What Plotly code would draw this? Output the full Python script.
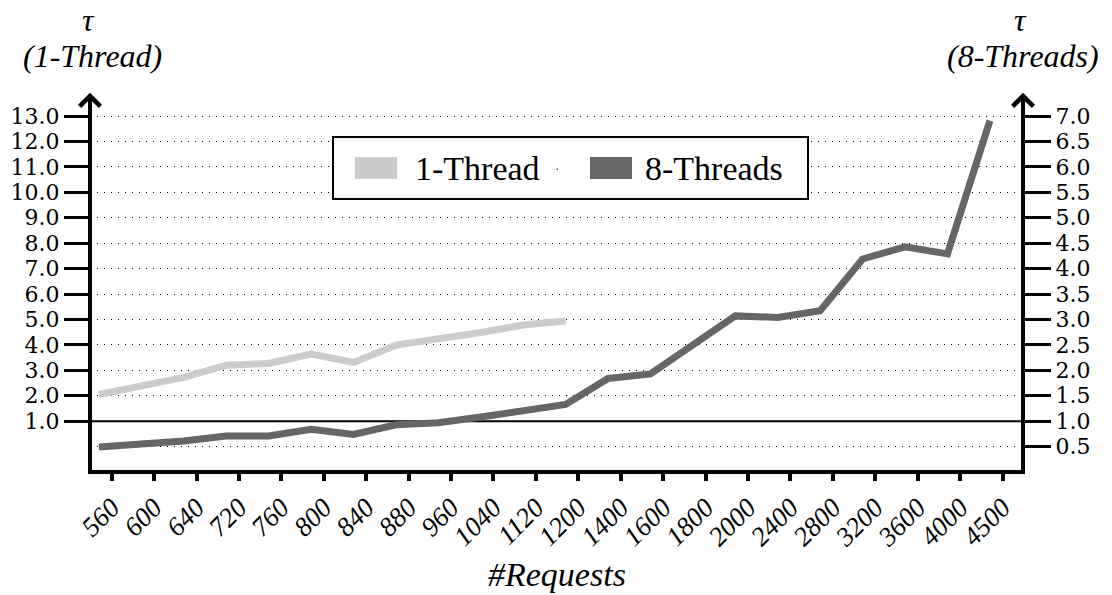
import plotly.graph_objects as go

# ---- data -------------------------------------------------------------
requests = ["560", "600", "640", "720", "760", "800", "840", "880", "960",
            "1040", "1120", "1200", "1400", "1600", "1800", "2000", "2400",
            "2800", "3200", "3600", "4000", "4500"]

tau_1_thread = [2.05, 2.40, 2.72, 3.20, 3.27, 3.64, 3.31, 3.99, 4.23, 4.49,
                4.78, 4.94]

tau_8_threads = [0.49, 0.55, 0.61, 0.71, 0.71, 0.84, 0.74, 0.93, 0.97, 1.08,
                 1.20, 1.33, 1.84, 1.93, 2.50, 3.07, 3.04, 3.17, 4.19, 4.43,
                 4.29, 6.91]

left_ticks = [1.0, 2.0, 3.0, 4.0, 5.0, 6.0, 7.0, 8.0, 9.0, 10.0, 11.0, 12.0, 13.0]
right_ticks = [0.5, 1.0, 1.5, 2.0, 2.5, 3.0, 3.5, 4.0, 4.5, 5.0, 5.5, 6.0, 6.5, 7.0]
baseline_tau = 1.0

# ---- geometry / style -------------------------------------------------
W, H = 1112, 595
ML, MR, MT, MB = 90, 89, 95, 123
PW, PH = W - ML - MR, H - MT - MB
FONT = "Liberation Serif"
TICK_FONT = "DejaVu Serif"
LIGHT, DARK = "#cccccc", "#666666"
TICK_SIZE = 22
AXIS_W = 4

point_shift = -0.3          # points sit slightly left of their tick
left_range = [-1.0, 13.83]
# right axis: tau8 = (tau1 + 1) / 2, so both share the 1.0 line
right_range = [(v + 1) / 2 for v in left_range]


def px(x):
    return (x - ML) / PW


def py(y):
    return (H - MB - y) / PH


fig = go.Figure()
fig.add_trace(go.Scatter(
    x=[i + point_shift for i in range(len(tau_1_thread))], y=tau_1_thread,
    mode="lines", line=dict(color=LIGHT, width=7), name="1-Thread",
    showlegend=False, yaxis="y"))
fig.add_trace(go.Scatter(
    x=[i + point_shift for i in range(len(tau_8_threads))], y=tau_8_threads,
    mode="lines", line=dict(color=DARK, width=7), name="8-Threads",
    showlegend=False, yaxis="y2"))

fig.update_layout(
    width=W, height=H,
    margin=dict(l=ML, r=MR, t=MT, b=MB),
    paper_bgcolor="white", plot_bgcolor="white",
    font=dict(family=FONT, color="black", size=30),
    xaxis=dict(
        range=[-0.51, 21.48], tickmode="array",
        tickvals=list(range(len(requests))), ticktext=requests,
        tickangle=-45, ticks="outside", ticklen=8, tickwidth=4,
        tickcolor="black", showgrid=False, zeroline=False, showline=False,
        tickfont=dict(family=FONT, size=27, style="italic"),
    ),
    yaxis=dict(
        range=left_range, tickmode="array", tickvals=left_ticks,
        ticktext=[f"{v:.1f}" for v in left_ticks],
        ticks="outside", ticklen=25, tickwidth=2.5, tickcolor="black",
        showgrid=False, zeroline=False, showline=False,
        tickfont=dict(family=TICK_FONT, size=TICK_SIZE),
    ),
    yaxis2=dict(
        range=right_range, overlaying="y", side="right", tickmode="array",
        tickvals=right_ticks, ticktext=[f"{v:.1f}" for v in right_ticks],
        ticks="outside", ticklen=27, tickwidth=2.5, tickcolor="black",
        showgrid=True, gridcolor="black", gridwidth=1, griddash="1px,6px",
        zeroline=False, showline=False,
        tickfont=dict(family=TICK_FONT, size=TICK_SIZE),
    ),
)

shapes = [
    # reference line at tau = 1
    dict(type="line", xref="paper", yref="y", x0=0, x1=1,
         y0=baseline_tau, y1=baseline_tau, line=dict(color="black", width=2),
         layer="below"),
    # axis frame: left, right, bottom
    dict(type="line", xref="paper", yref="paper", x0=0, x1=0, y0=-0.005, y1=1,
         line=dict(color="black", width=AXIS_W)),
    dict(type="line", xref="paper", yref="paper", x0=1, x1=1, y0=-0.005, y1=1,
         line=dict(color="black", width=AXIS_W)),
    dict(type="line", xref="paper", yref="paper", x0=-0.002, x1=1.002, y0=0, y1=0,
         line=dict(color="black", width=AXIS_W)),
    # legend box and swatches
    dict(type="rect", xref="paper", yref="paper", x0=px(333), x1=px(808),
         y0=py(199), y1=py(137), line=dict(color="black", width=2),
         fillcolor="white"),
    dict(type="rect", xref="paper", yref="paper", x0=px(355), x1=px(397),
         y0=py(179), y1=py(157), line=dict(width=0), fillcolor=LIGHT),
    dict(type="rect", xref="paper", yref="paper", x0=px(590), x1=px(632),
         y0=py(179), y1=py(157), line=dict(width=0), fillcolor=DARK),
    dict(type="rect", xref="paper", yref="paper", x0=px(556.5), x1=px(558),
         y0=py(170), y1=py(168.5), line=dict(width=0), fillcolor="#555555"),
]
fig.update_layout(shapes=shapes)

ann = []
# arrow heads on the two vertical axes
for xa in (0, 1):
    ann.append(dict(x=xa, y=1.006, xref="paper", yref="paper", text="",
                    showarrow=True, ax=0, ay=22, arrowhead=4, arrowsize=1.0,
                    arrowwidth=AXIS_W, arrowcolor="black", standoff=0))

title_font = dict(family=FONT, size=32, style="italic", color="black")
xtitle_font = dict(family=FONT, size=34, style="italic", color="black")
legend_font = dict(family=FONT, size=34, color="black")
ann += [
    dict(x=px(88), y=py(20), xref="paper", yref="paper", text="τ",
         showarrow=False, font=title_font, xanchor="center", yanchor="middle"),
    dict(x=px(92), y=py(56), xref="paper", yref="paper", text="(1-Thread)",
         showarrow=False, font=title_font, xanchor="center", yanchor="middle"),
    dict(x=px(1020), y=py(20), xref="paper", yref="paper", text="τ",
         showarrow=False, font=title_font, xanchor="center", yanchor="middle"),
    dict(x=px(1023), y=py(56), xref="paper", yref="paper", text="(8-Threads)",
         showarrow=False, font=title_font, xanchor="center", yanchor="middle"),
    dict(x=px(557), y=py(574), xref="paper", yref="paper", text="#Requests",
         showarrow=False, font=xtitle_font, xanchor="center", yanchor="middle"),
    dict(x=px(413), y=py(168), xref="paper", yref="paper", text="1-Thread",
         showarrow=False, font=legend_font, xanchor="left", yanchor="middle"),
    dict(x=px(643), y=py(168), xref="paper", yref="paper", text="8-Threads",
         showarrow=False, font=legend_font, xanchor="left", yanchor="middle"),
]
fig.update_layout(annotations=ann)

fig.write_html("out.html")
